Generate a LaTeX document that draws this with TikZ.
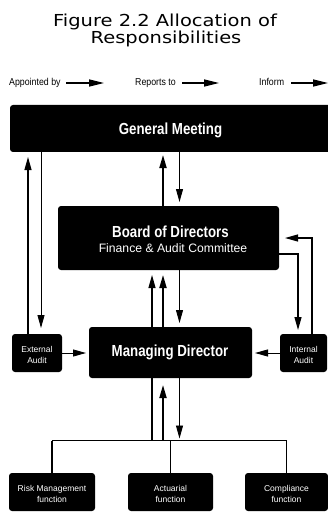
\documentclass[tikz,border=0pt]{standalone}
\usepackage{fontspec}
\setmainfont{Liberation Sans}
\newfontfamily\titlefont[FakeStretch=1.18]{DejaVu Sans}
\newfontfamily\condfont[FakeStretch=0.83]{Liberation Sans}
\newfontfamily\legfont[FakeStretch=0.88]{Liberation Sans}
\newfontfamily\smallfont{Liberation Sans}
\usetikzlibrary{arrows.meta}
\begin{document}
\begin{tikzpicture}[x=1pt,y=-1pt,
  box/.style={fill=black, rounded corners=3pt, inner sep=0pt, outer sep=0pt, text=white, align=center},
  bigtxt/.style={text=white, inner sep=0pt, font=\condfont\bfseries\fontsize{16}{18}\selectfont},
  smalltxt/.style={font=\smallfont\fontsize{8.5}{11}\selectfont},
  tip/.style={-{Triangle[length=13pt,width=7pt]}},
  legtip/.style={-{Triangle[length=15pt,width=7pt]}, line width=1.3pt},
  thickln/.style={line width=1.8pt},
  medln/.style={line width=1.2pt},
  thinln/.style={line width=0.9pt},
  legtxt/.style={inner sep=0pt, anchor=base west, font=\legfont\fontsize{10}{12}\selectfont}
]
\useasboundingbox (0,0) rectangle (328,513);
\clip (0,0) rectangle (328,513);
% title
\node[inner sep=0pt, anchor=base, font=\titlefont\fontsize{16.5}{18}\selectfont] (title1) at (165,27) {Figure 2.2 Allocation of};
\node[inner sep=0pt, anchor=base, font=\titlefont\fontsize{16.5}{18}\selectfont] (title2) at (166,44) {Responsibilities};
% legend
\node[legtxt] (lg1) at (9,86) {Appointed by};
\node[legtxt] (lg2) at (135,86) {Reports to};
\node[legtxt] (lg3) at (259,86) {Inform};
\coordinate (la1) at (66,83); \coordinate (lb1) at (104,83);
\coordinate (la2) at (182,83); \coordinate (lb2) at (219,83);
\coordinate (la3) at (291,83); \coordinate (lb3) at (328,83);
\draw[legtip] (la1) -- (lb1);
\draw[legtip] (la2) -- (lb2);
\draw[legtip] (la3) -- (lb3);
% columns and rows
\coordinate (cA) at (28,0);
\coordinate (cB) at (41,0);
\coordinate (cC) at (152,0);
\coordinate (cD) at (163,0);
\coordinate (cE) at (179.5,0);
\coordinate (cF) at (298,0);
\coordinate (cG) at (312,0);
\coordinate (rH) at (0,254);
\coordinate (rI) at (0,238);
\coordinate (rE) at (0,353);
\coordinate (bus) at (0,440.5);
% boxes
\node[box, minimum width=323pt, minimum height=47pt] (gm) at (171.5,128.5) {};
\node[bigtxt] (gmt) at (170.5,130) {General Meeting};
\node[box, minimum width=221pt, minimum height=64pt] (bod) at (168.5,238) {};
\node[bigtxt, anchor=base] (bodt1) at (170.5,237) {Board of Directors};
\node[inner sep=0pt, anchor=base, text=white, font=\smallfont\fontsize{12.2}{14}\selectfont] (bodt2) at (173,252) {Finance \& Audit Committee};
\node[box, minimum width=50pt, minimum height=38pt] (ea) at (37,353) {};
\node[box, minimum width=47pt, minimum height=38pt] (ia) at (303.5,353) {};
\node[box, minimum width=86pt, minimum height=38pt] (risk) at (52,492) {};
\node[box, minimum width=85pt, minimum height=38pt] (act) at (170.5,492) {};
\node[box, minimum width=83pt, minimum height=38pt] (comp) at (286.5,492) {};
% line behind the managing director box
\draw[medln, tip, shorten >=5pt] (cC |- bus) -- (cC |- bod.south);
\node[box, minimum width=163pt, minimum height=51pt] (md) at (170.5,352.5) {};
\node[bigtxt] (mdt) at (170,352.5) {Managing Director};
% small labels
\node[smalltxt, text=white, align=center, inner sep=0pt] (eat) at (37,355) {External\\Audit};
\node[smalltxt, text=white, align=center, inner sep=0pt] (iat) at (303.5,355) {Internal\\Audit};
\node[smalltxt, text=white, align=center, inner sep=0pt] (riskt) at (52,494) {Risk Management\\function};
\node[smalltxt, text=white, align=center, inner sep=0pt] (actt) at (170.5,494) {Actuarial\\function};
\node[smalltxt, text=white, align=center, inner sep=0pt] (compt) at (286.5,494) {Compliance\\function};
% connectors
\draw[medln, tip, shorten >=5pt] (cA |- ea.north) -- (cA |- gm.south);
\draw[thinln, tip, shorten >=6pt] (cB |- gm.south) -- (cB |- ea.north);
\draw[thickln, tip, shorten >=3pt] (cD |- bod.north) -- (cD |- gm.south);
\draw[thinln, tip, shorten >=4pt] (cE |- gm.south) -- (cE |- bod.north);
\draw[thickln, tip, shorten >=5pt] (cD |- md.north) -- (cD |- bod.south);
\draw[thinln, tip, shorten >=4pt] (cE |- bod.south) -- (cE |- md.north);
\draw[medln, tip, shorten >=4pt] (bod.east |- rH) -| (cF |- ia.north);
\draw[medln, tip, shorten >=6pt] (cG |- ia.north) |- (bod.east |- rI);
\draw[thinln, tip, shorten >=3pt] (ea.east |- rE) -- (md.west |- rE);
\draw[thinln, tip, shorten >=3pt] (ia.west |- rE) -- (md.east |- rE);
% bus to functions
\draw[medln] (risk.north |- bus) -- (comp.north |- bus);
\draw[medln] (risk.north |- bus) -- (risk.north);
\draw[medln] (act.north |- bus) -- (act.north);
\draw[medln] (comp.north |- bus) -- (comp.north);
\draw[thickln, tip, shorten >=7pt] (cD |- bus) -- (cD |- md.south);
\draw[thinln, tip, shorten >=2pt] (cE |- md.south) -- (cE |- bus);
\end{tikzpicture}
\end{document}
